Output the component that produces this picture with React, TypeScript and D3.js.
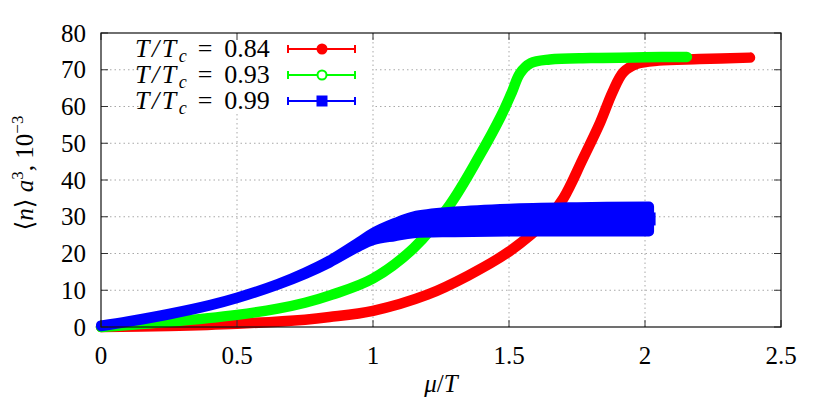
import React from 'react';
import * as d3 from 'd3';

// T/Tc = 0.84
const redMu = [0, 0.25, 0.5, 0.75, 0.84, 1.0, 1.2, 1.35, 1.5, 1.64, 1.7, 1.77, 1.835, 1.88, 1.92, 1.97, 2.05, 2.2, 2.386];
const redN = [0, 0.3, 0.9, 2.0, 2.7, 4.4, 8.8, 14.0, 20.5, 29.2, 35.0, 45.5, 55.6, 63.8, 69.3, 71.6, 72.5, 72.9, 73.3];

// T/Tc = 0.93
const greenMu = [0, 0.25, 0.5, 0.65, 0.75, 0.85, 1.0, 1.15, 1.28, 1.39, 1.47, 1.51, 1.54, 1.58, 1.65, 1.8, 2.0, 2.154];
const greenN = [0, 1.4, 3.3, 5.0, 6.6, 8.8, 13.2, 21.5, 33.0, 46.4, 57.3, 63.8, 69.0, 71.8, 72.8, 73.2, 73.4, 73.5];

// T/Tc = 0.99 (with error bars)
const blueMu = [0, 0.1, 0.25, 0.4, 0.5, 0.65, 0.75, 0.84, 0.95, 1.0, 1.08, 1.15, 1.3, 1.5, 1.75, 2.015];
const blueN = [0.3, 1.5, 3.5, 5.9, 7.9, 11.6, 14.6, 17.8, 22.6, 24.6, 26.5, 27.8, 28.6, 29.1, 29.3, 29.4];
const blueErr = [0.1, 0.1, 0.1, 0.1, 0.1, 0.1, 0.2, 0.3, 0.6, 1.0, 1.8, 2.3, 2.8, 3.1, 3.3, 3.4];

const xTicks = [0, 0.5, 1, 1.5, 2, 2.5];
const yTicks = [0, 10, 20, 30, 40, 50, 60, 70, 80];
const legendValues = ['0.84', '0.93', '0.99'];
const legendColors = ['#ff0000', '#00ff00', '#0000ff'];

const font = '"Liberation Serif", "DejaVu Serif", serif';

const App = () => {
  const x = d3.scaleLinear().domain([0, 2.5]).range([101, 781]);
  const y = d3.scaleLinear().domain([0, 80]).range([327, 33]);

  const line = d3
    .line<[number, number]>()
    .x((d) => x(d[0]))
    .y((d) => y(d[1]))
    .curve(d3.curveCatmullRom.alpha(0.5));

  const band = d3
    .area<number>()
    .x((i) => x(blueMu[i]))
    .y0((i) => y(blueN[i] - blueErr[i]))
    .y1((i) => y(blueN[i] + blueErr[i]))
    .curve(d3.curveCatmullRom.alpha(0.5));

  const redPts = redMu.map((m, i) => [m, redN[i]] as [number, number]);
  const greenPts = greenMu.map((m, i) => [m, greenN[i]] as [number, number]);
  const blueIdx = blueMu.map((_, i) => i);
  const last = blueMu.length - 1;

  const [x0, x1] = x.range();
  const [y0, y1] = y.range();

  return (
    <svg
      width={830}
      height={407}
      style={{ position: 'absolute', left: 0, top: 0, background: '#fff', fontFamily: font }}
    >
      {/* grid */}
      <g stroke="#a8a8a8" strokeWidth={1} strokeDasharray="1.5,3">
        {xTicks.slice(1, -1).map((t) => (
          <line key={'gx' + t} x1={x(t)} x2={x(t)} y1={y0} y2={y1} />
        ))}
        {yTicks.slice(1, -1).map((t) => (
          <line key={'gy' + t} x1={x0} x2={x1} y1={y(t)} y2={y(t)} />
        ))}
      </g>

      {/* data */}
      <path d={line(redPts)!} fill="none" stroke="#ff0000" strokeWidth={10.5} strokeLinecap="round" strokeLinejoin="round" />
      <path d={line(greenPts)!} fill="none" stroke="#00ff00" strokeWidth={10.5} strokeLinecap="round" strokeLinejoin="round" />
      <path d={band(blueIdx)!} fill="#0000ff" stroke="#0000ff" strokeWidth={10} strokeLinejoin="round" />
      <rect
        x={x(blueMu[last]) - 6.5}
        y={y(blueN[last]) - 6.5}
        width={13}
        height={13}
        fill="#0000ff"
      />

      {/* key */}
      <rect x={145} y={34} width={227} height={79} fill="#fff" />
      {legendValues.map((v, i) => {
        const cy = 49 + i * 26;
        const c = legendColors[i];
        return (
          <g key={v}>
            <text x={135} y={cy + 8} fontSize={26}>
              <tspan fontStyle="italic" letterSpacing={2.5}>T/T</tspan>
              <tspan fontStyle="italic" fontSize={18} dy={5}>c</tspan>
              <tspan dy={-5} dx={11}>=</tspan>
              <tspan dx={12}>{v}</tspan>
            </text>
            <g stroke={c} strokeWidth={2}>
              <line x1={288} x2={355} y1={cy} y2={cy} />
              <line x1={288} x2={288} y1={cy - 4} y2={cy + 4} />
              <line x1={355} x2={355} y1={cy - 4} y2={cy + 4} />
            </g>
            {i === 0 && <circle cx={322} cy={cy} r={5.5} fill={c} />}
            {i === 1 && <circle cx={322} cy={cy} r={4.5} fill="#fff" stroke={c} strokeWidth={2} />}
            {i === 2 && <rect x={316.5} y={cy - 5.5} width={11} height={11} fill={c} />}
          </g>
        );
      })}

      {/* ticks (mirrored, inward) */}
      <g stroke="#333" strokeWidth={1}>
        {xTicks.map((t) => (
          <g key={'tx' + t}>
            <line x1={x(t)} x2={x(t)} y1={y0} y2={y0 - 7} />
            <line x1={x(t)} x2={x(t)} y1={y1} y2={y1 + 7} />
          </g>
        ))}
        {yTicks.map((t) => (
          <g key={'ty' + t}>
            <line x1={x0} x2={x0 + 7} y1={y(t)} y2={y(t)} />
            <line x1={x1} x2={x1 - 7} y1={y(t)} y2={y(t)} />
          </g>
        ))}
      </g>
      <rect x={x0} y={y1} width={x1 - x0} height={y0 - y1} fill="none" stroke="#111" strokeWidth={1.2} />

      {/* tick labels */}
      <g fontSize={25} fill="#000">
        {xTicks.map((t) => (
          <text key={'lx' + t} x={x(t)} y={364} textAnchor="middle">
            {d3.format('~g')(t)}
          </text>
        ))}
        {yTicks.map((t) => (
          <text key={'ly' + t} x={86} y={y(t) + 8.5} textAnchor="end">
            {t}
          </text>
        ))}
      </g>

      {/* axis titles */}
      <text x={(x0 + x1) / 2} y={392} fontSize={25} textAnchor="middle">
        <tspan fontStyle="italic">μ</tspan>
        <tspan>/</tspan>
        <tspan fontStyle="italic">T</tspan>
      </text>
      <text transform="translate(33,173) rotate(-90)" fontSize={25} textAnchor="middle">
        <tspan>⟨</tspan>
        <tspan fontStyle="italic">n</tspan>
        <tspan>⟩ </tspan>
        <tspan fontStyle="italic">a</tspan>
        <tspan fontSize={17} dy={-10}>3</tspan>
        <tspan dy={10}>, 10</tspan>
        <tspan fontSize={17} dy={-10}>−3</tspan>
      </text>
    </svg>
  );
};

export default App;
